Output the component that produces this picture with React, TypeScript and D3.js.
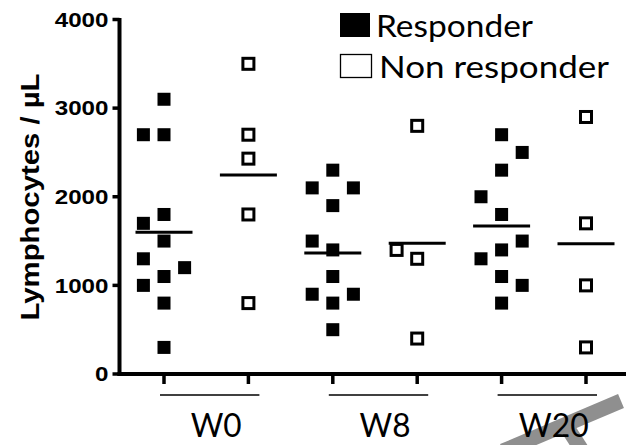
import React from "react";
import * as d3 from "d3";

// ---- data ----
const groups = ["W0", "W8", "W20"];
const statuses = ["Responder", "Non responder"];
const columns = ["W0-R", "W0-NR", "W8-R", "W8-NR", "W20-R", "W20-NR"];
const yTicks = [0, 1000, 2000, 3000, 4000];

// [value, slot] — slot is the scatter column (-1 left, 0 centre, 1 right)
const w0Responder: [number, number][] = [
  [3100, 0], [2700, -1], [2700, 0], [1800, 0], [1700, -1], [1500, 0],
  [1300, -1], [1200, 1], [1100, 0], [1000, -1], [800, 0], [300, 0],
];
const w0NonResponder: [number, number][] = [
  [3500, 0], [2700, 0], [2430, 0], [1800, 0], [800, 0],
];
const w8Responder: [number, number][] = [
  [2300, 0], [2100, -1], [2100, 1], [1900, 0], [1500, -1], [1400, 0],
  [1100, 0], [900, -1], [900, 1], [800, 0], [500, 0],
];
const w8NonResponder: [number, number][] = [
  [2800, 0], [1400, -1], [1300, 0], [400, 0],
];
const w20Responder: [number, number][] = [
  [2700, 0], [2500, 1], [2300, 0], [2000, -1], [1800, 0], [1500, 1],
  [1400, 0], [1300, -1], [1100, 0], [1000, 1], [800, 0],
];
const w20NonResponder: [number, number][] = [
  [2900, 0], [1700, 0], [1000, 0], [300, 0],
];
const seriesByColumn = [
  w0Responder, w0NonResponder, w8Responder, w8NonResponder, w20Responder, w20NonResponder,
];
const meanValues = [1600, 2245, 1365, 1475, 1670, 1470];

export default function App() {
  const W = 626, H = 445;
  const x = d3.scalePoint<string>().domain(columns).range([164, 586]);
  const y = d3.scaleLinear().domain([0, 4000]).range([374, 19.5]);
  const slotW = 20.6;
  const axisX = 119.5;
  const axisY = y(0);

  return (
    <svg width={W} height={H} style={{ position: "fixed", left: 0, top: 0, background: "#fff" }}>
      <rect x={0} y={0} width={W} height={H} fill="#fff" />

      {/* watermark-like gray strokes */}
      <g stroke="#8f8f8f" strokeWidth={15} strokeLinecap="butt">
        <line x1={503} y1={451} x2={621} y2={401} />
        <line x1={565} y1={424} x2={583} y2={452} />
      </g>

      {/* y axis */}
      <line x1={axisX} x2={axisX} y1={y(4000) - 1.5} y2={axisY + 2} stroke="#000" strokeWidth={4} />
      {yTicks.map((t) => (
        <g key={t}>
          <line x1={axisX - 7} x2={axisX} y1={y(t)} y2={y(t)} stroke="#000" strokeWidth={3.5} />
          <text
            transform={`translate(108.5,${y(t) + 7.2}) scale(1.18,1)`}
            textAnchor="end"
            fontFamily="Liberation Sans, Arial, sans-serif"
            fontWeight="bold"
            fontSize={20.5}
          >
            {t}
          </text>
        </g>
      ))}
      <text
        transform={`translate(38.5,197) rotate(-90)`}
        textAnchor="middle"
        fontFamily="Liberation Sans, Arial, sans-serif"
        fontWeight="bold"
        fontSize={26}
        textLength={247}
        lengthAdjust="spacingAndGlyphs"
      >
        Lymphocytes / µL
      </text>

      {/* x axis */}
      <line x1={axisX - 2} x2={W} y1={axisY} y2={axisY} stroke="#000" strokeWidth={4} />
      {columns.map((c) => (
        <line key={c} x1={x(c)!} x2={x(c)!} y1={axisY} y2={axisY + 10} stroke="#000" strokeWidth={3.5} />
      ))}
      {groups.map((g, i) => {
        const xr = x(columns[i * 2])!;
        const xn = x(columns[i * 2 + 1])!;
        return (
          <g key={g}>
            <line x1={xr - 4} x2={xn + 11} y1={395} y2={395} stroke="#000" strokeWidth={1.3} />
            <text
              x={(xr + xn) / 2 + 10}
              y={436.5}
              textAnchor="middle"
              fontFamily="Lato, sans-serif"
              fontSize={32}
              textLength={g.length === 2 ? 51 : 70}
              lengthAdjust="spacingAndGlyphs"
            >
              {g}
            </text>
          </g>
        );
      })}

      {/* mean lines */}
      {meanValues.map((m, i) => (
        <line
          key={"m" + i}
          x1={x(columns[i])! - 28.5}
          x2={x(columns[i])! + 28.5}
          y1={y(m)}
          y2={y(m)}
          stroke="#000"
          strokeWidth={3}
        />
      ))}

      {/* points */}
      {seriesByColumn.map((series, i) =>
        series.map(([v, s], j) => {
          const cx = x(columns[i])! + s * slotW;
          const cy = y(v);
          const responder = i % 2 === 0;
          return responder ? (
            <rect key={i + "-" + j} x={cx - 6.5} y={cy - 6.5} width={13} height={13} fill="#000" />
          ) : (
            <rect
              key={i + "-" + j}
              x={cx - 5.5}
              y={cy - 5.5}
              width={11}
              height={11}
              fill="#fff"
              stroke="#000"
              strokeWidth={3}
            />
          );
        })
      )}

      {/* legend */}
      <rect x={340} y={13} width={30} height={24} fill="#000" />
      <text x={376} y={36.5} fontFamily="Lato, sans-serif" fontSize={31} textLength={157} lengthAdjust="spacingAndGlyphs">
        {statuses[0]}
      </text>
      <rect x={340.5} y={54.5} width={31} height={23} fill="#fff" stroke="#000" strokeWidth={1.3} />
      <text x={379} y={78} fontFamily="Lato, sans-serif" fontSize={31} textLength={230} lengthAdjust="spacingAndGlyphs">
        {statuses[1]}
      </text>
    </svg>
  );
}
